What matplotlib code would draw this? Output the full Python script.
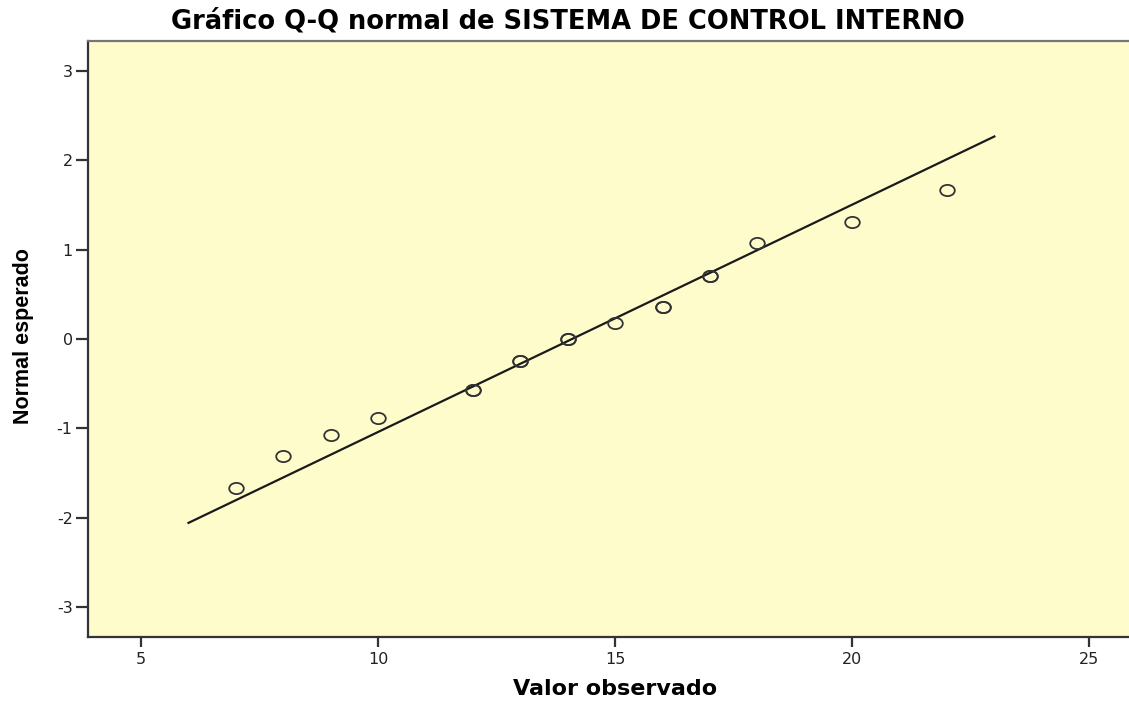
import matplotlib
matplotlib.use('Agg')
import matplotlib.pyplot as plt
from matplotlib.path import Path
from matplotlib.transforms import Affine2D
import numpy as np

# observed values and their expected normal scores (duplicates drawn twice)
valor_observado = [7, 8, 9, 10, 12, 12, 13, 13, 14, 14, 15, 16, 16, 17, 17, 18, 20, 22]
normal_esperado = [-1.67, -1.31, -1.07, -0.88, -0.57, -0.57, -0.25, -0.25, 0.0, 0.0,
                   0.18, 0.36, 0.36, 0.71, 0.71, 1.07, 1.31, 1.67]

# reference line: mean and sd of the sample
media = 14.09
desv = 3.93
linea_x = [6, 23]

xticks = [5, 10, 15, 20, 25]
yticks = [-3, -2, -1, 0, 1, 2, 3]

plt.rcParams['font.family'] = ['DejaVu Sans']
plt.rcParams['axes.unicode_minus'] = False

W, H = 1129, 701
fig = plt.figure(figsize=(W / 100, H / 100), dpi=100)
ax = fig.add_axes([88 / W, 1 - 637 / H, 1 - 88 / W, (637 - 41) / H])
ax.set_facecolor('#FEFCCB')

lx = np.array(linea_x)
ax.plot(lx, (lx - media) / desv, color='#1a1a1a', lw=1.6)

# the circles in the original are a bit wider than tall
elipse = Path.unit_circle().transformed(Affine2D().scale(1.3, 1.0))
ax.plot(valor_observado, normal_esperado, linestyle='none', marker=elipse, ms=10.5,
        mfc='none', mec='#333333', mew=1.3)

ax.set_xlim(3.88, 25.84)
ax.set_ylim(-3.336, 3.336)
ax.set_xticks(xticks)
ax.set_yticks(yticks)
ax.tick_params(direction='out', width=1.6, labelsize=11.5, color='#333333',
               labelcolor='#222222')
ax.tick_params(axis='y', length=9, pad=2)
ax.tick_params(axis='x', length=7, pad=4)

for s in ['left', 'bottom']:
    ax.spines[s].set_linewidth(1.6)
    ax.spines[s].set_color('#333333')
ax.spines['top'].set_linewidth(1.6)
ax.spines['top'].set_color('#777777')
ax.spines['right'].set_visible(False)

ax.set_xlabel('Valor observado', fontsize=16, fontweight='bold', va='center')
ax.xaxis.set_label_coords(0.506, (637 - 689) / 596)
ax.set_ylabel('Normal esperado', fontsize=15.5, fontweight='bold', va='center',
              family=['Liberation Sans', 'DejaVu Sans'])
ax.yaxis.set_label_coords((24 - 88) / 1041, 0.505)
fig.text(568 / W, 1 - 22 / H, 'Gráfico Q-Q normal de SISTEMA DE CONTROL INTERNO',
         ha='center', va='center', fontsize=18.5, fontweight='bold')

plt.savefig('out.png', dpi=100)
plt.close()
